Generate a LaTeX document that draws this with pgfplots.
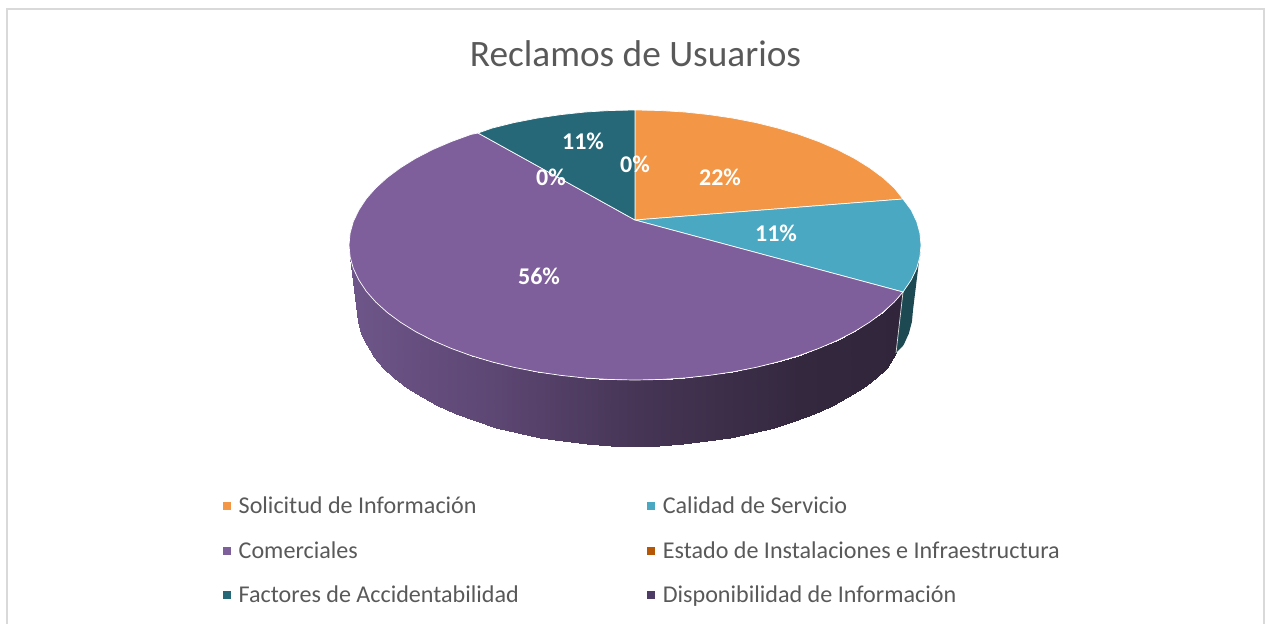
\documentclass[border=0pt]{standalone}
\usepackage{fontspec}
\setmainfont{Carlito}
\usepackage{pgfplots}
\pgfplotsset{compat=1.18}
\usepackage{pgfplotstable}

\definecolor{cOrange}{HTML}{F39645}
\definecolor{cBlue}{HTML}{4AA8C2}
\definecolor{cPurple}{HTML}{7F5F9B}
\definecolor{cRust}{HTML}{B65708}
\definecolor{cTeal}{HTML}{276878}
\definecolor{cPlum}{HTML}{4F3C66}
\definecolor{cTealSide}{HTML}{1D4A52}
\definecolor{cText}{HTML}{595959}
\definecolor{cFrame}{HTML}{D9D9D9}

\pgfplotsset{
  colormap={sideplum}{rgb255(0)=(110,86,138); rgb255(150)=(92,70,114); rgb255(290)=(70,53,85); rgb255(450)=(52,40,63); rgb255(554)=(48,37,59)},
  legend image code/.code={\fill[#1] (0pt,-4pt) rectangle (8pt,4pt);},
  slice/.style={forget plot, draw=white, line width=0.7pt},
}

% pie outline in picture pixels, y grows downwards
\pgfplotstableread{
x y
349 245
357 310
350.1 256.8
358.1 321.9
353.3 268.4
361.2 333.6
358.8 279.9
366.5 345.2
366.2 291.2
373.8 356.5
375.8 302.1
383.0 367.5
387.3 312.5
394.2 378.0
400.7 322.4
407.3 388.0
415.9 331.8
422.0 397.4
432.8 340.5
438.4 406.2
451.2 348.4
456.3 414.2
471.0 355.6
475.5 421.4
492.0 361.9
496.0 427.8
514.1 367.4
517.5 433.3
537.2 371.9
539.9 437.8
561.0 375.4
563.1 441.4
585.4 378.0
586.7 443.9
610.1 379.5
610.8 445.5
635 380
635 446
659.9 379.5
659.2 445.5
684.6 378.0
683.3 443.9
709.0 375.4
706.9 441.4
732.8 371.9
730.1 437.8
755.9 367.4
752.5 433.3
778.0 361.9
774.0 427.8
799.0 355.6
794.5 421.4
818.8 348.4
813.7 414.2
837.2 340.5
831.6 406.2
854.1 331.8
848.0 397.4
869.3 322.4
862.7 388.0
882.7 312.5
875.8 378.0
894.2 302.1
887.0 367.5
903 292
896 353
}\sidetable

\begin{document}
\begin{tikzpicture}
\begin{axis}[
  width=1265pt,
  height=624pt,
  scale only axis,
  xmin=0, xmax=1265,
  ymin=0, ymax=624,
  y dir=reverse,
  axis lines=none,
  clip=false,
  legend columns=2,
  legend cell align=left,
  legend style={
    at={(axis cs:219.5,493)}, anchor=north west,
    draw=none, fill=none,
    font=\fontsize{24.1}{28}\selectfont, text=cText,
    row sep=22pt,
    /tikz/every odd column/.append style={column sep=6pt},
    /tikz/every even column/.append style={column sep=126pt},
  },
]
\path (axis cs:0,0) rectangle (axis cs:1265,624);
% frame
\addplot[forget plot, cFrame, line width=2pt] coordinates {(7,624) (7,9) (1264,9) (1264,624)};

% side wall
\addplot[forget plot, surf, shader=interp, mesh/rows=2, mesh/ordering=y varies,
  colormap name=sideplum, point meta=x] table {\sidetable};
\addplot[forget plot, fill=cTealSide, draw=none] coordinates {
  (903,292) (911.2,279.9) (916.7,268.4) (919.9,256.8) (921,245)
  (913,310) (911.9,321.9) (908.8,333.6) (903.5,345.2) (896,353)
} -- cycle;
\addplot[forget plot, draw=white!75!gray, line width=0.7pt] coordinates {(903,292) (896,353)};

% top faces
\addplot[slice, fill=cOrange] coordinates {
  (635,220) (635,110) (659.9,110.5) (684.6,112.0) (709.0,114.6) (732.8,118.1)
  (755.9,122.6) (778.0,128.1) (799.0,134.4) (818.8,141.6) (837.2,149.5)
  (854.1,158.2) (869.3,167.6) (882.7,177.5) (894.2,187.9) (903,199)
} -- cycle;
\addplot[slice, fill=cBlue] coordinates {
  (635,220) (903,199) (911.2,210.1) (916.7,221.6) (919.9,233.2) (921,245)
  (919.9,256.8) (916.7,268.4) (911.2,279.9) (903,292)
} -- cycle;
\addplot[slice, fill=cPurple] coordinates {
  (635,220) (903,292) (894.2,302.1) (882.7,312.5) (869.3,322.4) (854.1,331.8)
  (837.2,340.5) (818.8,348.4) (799.0,355.6) (778.0,361.9) (755.9,367.4)
  (732.8,371.9) (709.0,375.4) (684.6,378.0) (659.9,379.5) (635,380)
  (610.1,379.5) (585.4,378.0) (561.0,375.4) (537.2,371.9) (514.1,367.4)
  (492.0,361.9) (471.0,355.6) (451.2,348.4) (432.8,340.5) (415.9,331.8)
  (400.7,322.4) (387.3,312.5) (375.8,302.1) (366.2,291.2) (358.8,279.9)
  (353.3,268.4) (350.1,256.8) (349,245) (350.1,233.2) (353.3,221.6)
  (358.8,210.1) (366.2,198.8) (375.8,187.9) (387.3,177.5) (400.7,167.6)
  (415.9,158.2) (432.8,149.5) (451.2,141.6) (471.0,134.4) (478,133)
} -- cycle;
\addplot[slice, fill=cTeal] coordinates {
  (635,220) (478,133) (492.0,128.1) (514.1,122.6) (537.2,118.1) (561.0,114.6)
  (585.4,112.0) (610.1,110.5) (635,110)
} -- cycle;

% percentage labels
\addplot[forget plot, draw=none, mark=none, point meta=explicit symbolic,
  nodes near coords={\pgfplotspointmeta\%},
  every node near coord/.style={anchor=center, text=white,
    font=\bfseries\fontsize{24}{28}\selectfont}]
  coordinates {(720,177) [22] (776,233) [11] (539,276) [56]
    (583,141) [11] (551,177) [0] (635,164) [0]};

\addlegendimage{draw=none, fill=cOrange}\addlegendentry{Solicitud de Información}
\addlegendimage{draw=none, fill=cBlue}\addlegendentry{Calidad de Servicio}
\addlegendimage{draw=none, fill=cPurple}\addlegendentry{Comerciales}
\addlegendimage{draw=none, fill=cRust}\addlegendentry{Estado de Instalaciones e Infraestructura}
\addlegendimage{draw=none, fill=cTeal}\addlegendentry{Factores de Accidentabilidad}
\addlegendimage{draw=none, fill=cPlum}\addlegendentry{Disponibilidad de Información}

\node[text=cText, font=\fontsize{37.3}{44}\selectfont] at (axis cs:635.5,54) {Reclamos de Usuarios};
\end{axis}
\end{tikzpicture}
\end{document}
